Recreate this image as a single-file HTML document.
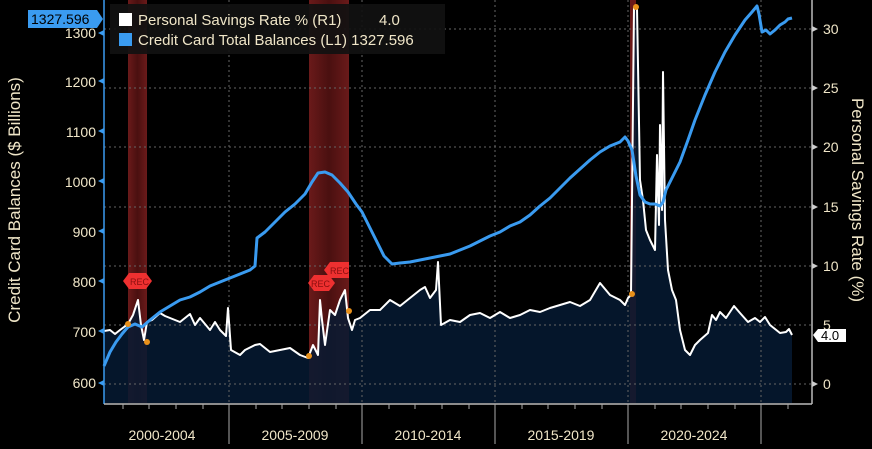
<!DOCTYPE html>
<html><head><meta charset="utf-8"><style>
body{margin:0;background:#000;width:872px;height:444px;overflow:hidden}
text{font-family:"Liberation Sans",sans-serif}
</style></head><body>
<svg width="872" height="444" viewBox="0 0 872 444" xmlns="http://www.w3.org/2000/svg">
<defs><linearGradient id="rg" x1="0" y1="0" x2="1" y2="0"><stop offset="0" stop-color="#6a1a1a"/><stop offset="0.5" stop-color="#4a1010"/><stop offset="1" stop-color="#6a1a1a"/></linearGradient></defs>
<rect width="872" height="444" fill="#000"/>
<rect x="128" y="0" width="19" height="403" fill="url(#rg)"/>
<rect x="309" y="0" width="40" height="403" fill="url(#rg)"/>
<rect x="630" y="0" width="6" height="403" fill="#6a1818"/>
<path fill="#061a33" opacity="0.85" d="M104,403 L104,331 110,330 115,334 120,330 128,324 133,315 138,300 141,325 144,340 147,322 152,320 160,313 165,316 170,318 180,322 190,314 195,325 200,318 210,330 215,322 220,330 226,336 228,308 231,350 240,355 245,350 255,345 260,344 270,352 280,350 290,348 300,355 308,358 313,345 318,355 320,300 322,320 325,345 330,310 335,315 340,300 345,290 348,318 352,330 355,320 360,318 370,310 380,310 390,300 400,306 410,298 420,290 425,287 430,298 436,290 438,262 441,325 450,320 460,322 470,315 480,313 490,318 500,312 510,318 520,315 530,310 540,312 550,308 560,305 570,302 580,306 590,300 600,283 610,295 620,300 625,305 628,298 631,295 634,8 637,8 640,180 643,200 646,230 650,240 655,250 657,155 659,225 660,125 662,210 663,72 665,220 668,270 672,290 676,300 680,330 685,350 690,355 695,345 700,340 708,333 712,315 716,320 720,312 726,318 734,306 740,313 748,322 755,318 760,322 765,317 770,325 780,333 786,332 789,329 792,335 L792,403 Z"/>
<g stroke="#666" stroke-dasharray="2,3" stroke-width="1">
<line x1="104" x2="812" y1="29" y2="29"/><line x1="104" x2="812" y1="88" y2="88"/>
<line x1="104" x2="812" y1="147" y2="147"/><line x1="104" x2="812" y1="207" y2="207"/>
<line x1="104" x2="812" y1="266" y2="266"/><line x1="104" x2="812" y1="325" y2="325"/>
<line x1="104" x2="812" y1="384" y2="384"/>
<line x1="229" x2="229" y1="0" y2="403"/><line x1="362" x2="362" y1="0" y2="403"/>
<line x1="495" x2="495" y1="0" y2="403"/><line x1="628" x2="628" y1="0" y2="403"/>
<line x1="761" x2="761" y1="0" y2="403"/>
</g>
<polyline fill="none" stroke="#fff" stroke-width="2" stroke-linejoin="round" points="104,331 110,330 115,334 120,330 128,324 133,315 138,300 141,325 144,340 147,322 152,320 160,313 165,316 170,318 180,322 190,314 195,325 200,318 210,330 215,322 220,330 226,336 228,308 231,350 240,355 245,350 255,345 260,344 270,352 280,350 290,348 300,355 308,358 313,345 318,355 320,300 322,320 325,345 330,310 335,315 340,300 345,290 348,318 352,330 355,320 360,318 370,310 380,310 390,300 400,306 410,298 420,290 425,287 430,298 436,290 438,262 441,325 450,320 460,322 470,315 480,313 490,318 500,312 510,318 520,315 530,310 540,312 550,308 560,305 570,302 580,306 590,300 600,283 610,295 620,300 625,305 628,298 631,295 634,8 637,8 640,180 643,200 646,230 650,240 655,250 657,155 659,225 660,125 662,210 663,72 665,220 668,270 672,290 676,300 680,330 685,350 690,355 695,345 700,340 708,333 712,315 716,320 720,312 726,318 734,306 740,313 748,322 755,318 760,322 765,317 770,325 780,333 786,332 789,329 792,335"/>
<polyline fill="none" stroke="#3a9bf0" stroke-width="3" stroke-linejoin="round" points="104,366 110,352 116,342 122,334 128,327 135,324 142,327 150,320 160,312 170,306 180,300 190,297 200,292 210,286 220,282 230,278 240,274 250,270 255,266 257,238 265,232 275,222 285,212 295,204 305,194 312,182 318,173 325,172 332,175 340,183 348,192 356,204 362,212 368,224 376,240 384,256 392,264 400,263 410,262 420,260 430,258 440,256 450,254 460,250 470,246 480,241 490,236 500,232 510,226 520,222 530,215 540,206 550,198 560,188 570,178 580,169 590,160 600,152 610,146 620,142 625,137 628,141 632,150 636,176 640,195 645,202 650,204 655,204 660,206 663,202 666,190 672,178 680,162 688,140 695,120 705,95 715,72 725,52 735,35 745,20 752,12 757,6 759,14 762,32 766,30 770,34 775,30 780,25 785,22 788,19 792,18"/>
<g fill="#e8901a"><circle cx="128" cy="324" r="3"/><circle cx="147" cy="342" r="3"/><circle cx="309" cy="356" r="3"/><circle cx="349" cy="311" r="3"/><circle cx="632" cy="294" r="3"/><circle cx="636" cy="7" r="3"/></g>
<g font-size="9" fill="#8a0f0f">
<polygon points="123,281 129,273 146,273 152,281 146,289 129,289" fill="#ee3030"/><text x="130" y="285">REC</text>
<polygon points="308,283 314,275 329,275 335,283 329,291 314,291" fill="#ee3030"/><text x="311" y="287">REC</text>
<polygon points="324,270 330,262 349,262 349,278 330,278" fill="#ee3030"/><text x="330" y="274">REC</text>
</g>
<line x1="104" y1="0" x2="104" y2="404" stroke="#3a9bf0" stroke-width="1.5"/>
<line x1="104" y1="404" x2="812" y2="404" stroke="#bbb" stroke-width="1.5"/>
<line x1="812" y1="0" x2="812" y2="404" stroke="#bbb" stroke-width="1.5"/>
<g stroke="#aaa"><line x1="229" x2="229" y1="404" y2="444"/><line x1="362" x2="362" y1="404" y2="444"/><line x1="495" x2="495" y1="404" y2="444"/><line x1="628" x2="628" y1="404" y2="444"/><line x1="761" x2="761" y1="404" y2="444"/></g>
<g stroke="#aaa">
<line x1="123" x2="123" y1="404" y2="409"/><line x1="149" x2="149" y1="404" y2="409"/><line x1="176" x2="176" y1="404" y2="409"/><line x1="203" x2="203" y1="404" y2="409"/>
<line x1="256" x2="256" y1="404" y2="409"/><line x1="282" x2="282" y1="404" y2="409"/><line x1="309" x2="309" y1="404" y2="409"/><line x1="336" x2="336" y1="404" y2="409"/>
<line x1="389" x2="389" y1="404" y2="409"/><line x1="415" x2="415" y1="404" y2="409"/><line x1="442" x2="442" y1="404" y2="409"/><line x1="469" x2="469" y1="404" y2="409"/>
<line x1="522" x2="522" y1="404" y2="409"/><line x1="548" x2="548" y1="404" y2="409"/><line x1="575" x2="575" y1="404" y2="409"/><line x1="602" x2="602" y1="404" y2="409"/>
<line x1="655" x2="655" y1="404" y2="409"/><line x1="681" x2="681" y1="404" y2="409"/><line x1="708" x2="708" y1="404" y2="409"/><line x1="735" x2="735" y1="404" y2="409"/><line x1="788" x2="788" y1="404" y2="409"/>
</g>
<g font-size="14" fill="#f0e6c8" text-anchor="middle">
<text x="162" y="440">2000-2004</text><text x="295" y="440">2005-2009</text><text x="428" y="440">2010-2014</text><text x="561" y="440">2015-2019</text><text x="694" y="440">2020-2024</text>
</g>
<g fill="#3a9bf0"><polygon points="104,380 98,383 104,386"/><polygon points="104,328 98,331 104,334"/><polygon points="104,278 98,281 104,284"/><polygon points="104,228 98,231 104,234"/><polygon points="104,178 98,181 104,184"/><polygon points="104,128 98,131 104,134"/><polygon points="104,78 98,81 104,84"/><polygon points="104,30 98,33 104,36"/></g>
<g font-size="14" fill="#f0e6c8" text-anchor="end">
<text x="96" y="388">600</text><text x="96" y="337">700</text><text x="96" y="287">800</text><text x="96" y="237">900</text><text x="96" y="187">1000</text><text x="96" y="137">1100</text><text x="96" y="87">1200</text><text x="96" y="38">1300</text>
</g>
<g fill="#ccc"><polygon points="812,381 818,384 812,387"/><polygon points="812,263 818,266 812,269"/><polygon points="812,204 818,207 812,210"/><polygon points="812,144 818,147 812,150"/><polygon points="812,85 818,88 812,91"/><polygon points="812,26 818,29 812,32"/></g>
<g font-size="14" fill="#f0e6c8">
<text x="823" y="389">0</text><text x="823" y="330">5</text><text x="823" y="271">10</text><text x="823" y="212">15</text><text x="823" y="152">20</text><text x="823" y="93">25</text><text x="823" y="34">30</text>
</g>
<polygon points="813,335 818,329 846,329 846,342 818,342" fill="#fff"/>
<text x="821" y="340" font-size="13" fill="#000">4.0</text>
<text transform="translate(20,200) rotate(-90)" font-size="17" fill="#f0e6c8" text-anchor="middle">Credit Card Balances ($ Billions)</text>
<text transform="translate(852,200) rotate(90)" font-size="17" fill="#f0e6c8" text-anchor="middle">Personal Savings Rate (%)</text>
<rect x="110" y="4" width="335" height="50" fill="#111" opacity="0.92"/>
<rect x="119" y="13" width="13" height="13" fill="#fff"/>
<rect x="119" y="33" width="13" height="13" fill="#3a9bf0"/>
<g font-size="15" fill="#f0e6c8">
<text x="138" y="25">Personal Savings Rate % (R1)</text><text x="379" y="25">4.0</text>
<text x="138" y="45">Credit Card Total Balances (L1) 1327.596</text>
</g>
<polygon points="28,10 97,10 103,19 97,28 28,28" fill="#3a9bf0"/>
<text x="31" y="24" font-size="14" fill="#000">1327.596</text>
</svg>
</body></html>
